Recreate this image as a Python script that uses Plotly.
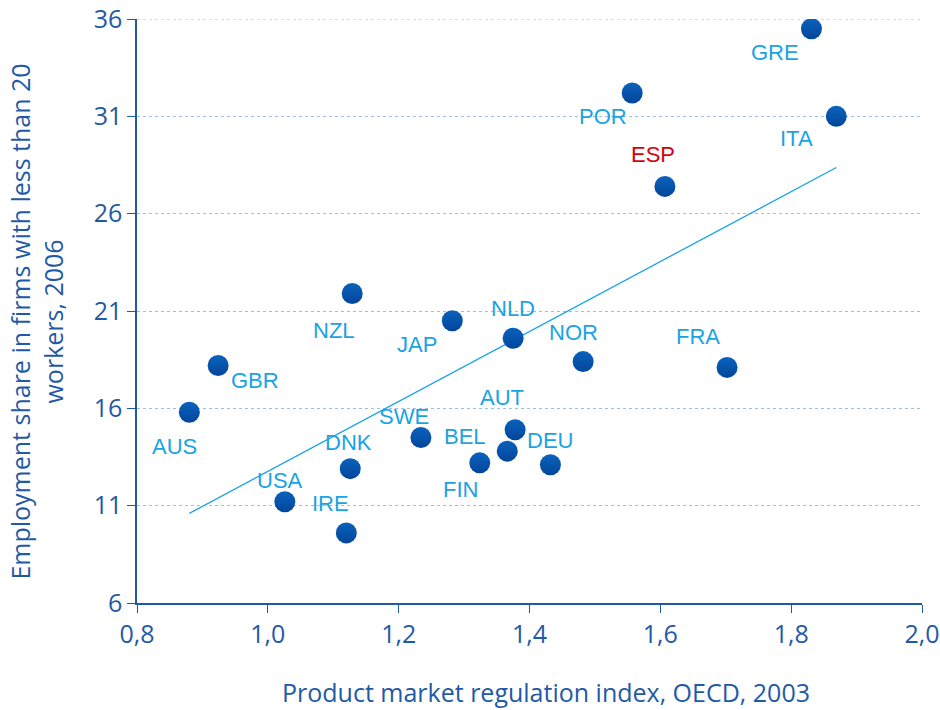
import plotly.graph_objects as go
import numpy as np

# Product market regulation vs employment share in small firms
countries = ["GRE", "ITA", "POR", "ESP", "NZL", "JAP", "NLD", "NOR", "FRA", "GBR",
             "AUS", "SWE", "AUT", "BEL", "DEU", "FIN", "DNK", "USA", "IRE"]
pmr = [1.831, 1.869, 1.557, 1.607, 1.129, 1.282, 1.375, 1.482, 1.702, 0.924,
       0.880, 1.234, 1.378, 1.324, 1.432, 1.366, 1.126, 1.026, 1.120]
emp_share = [35.5, 31.0, 32.2, 27.4, 21.9, 20.5, 19.6, 18.4, 18.1, 18.2,
             15.8, 14.5, 14.9, 13.2, 13.1, 13.8, 12.9, 11.2, 9.6]

# label offsets (px) relative to each point
label_dx = [-36, -40, -29, -12, -18, -35, 0, -10, -29, 37, -15, -17, -13, -15, 0, -47, -2, -5, -16]
label_dy = [24, 22, 24, -32, 37, 24, -30, -29, -31, 15, 34, -21, -32, -26, -24, 38, -26, -21, -29]

x_ticks = [0.8, 1.0, 1.2, 1.4, 1.6, 1.8, 2.0]
x_ticklabels = ["0,8", "1,0", "1,2", "1,4", "1,6", "1,8", "2,0"]
y_ticks = [6, 11, 16, 21, 26, 31, 36]

axis_col = "#1F5AA6"
label_col = "#1AA3E3"
grid_col = "#93C3EA"

# linear trend
coef = np.polyfit(pmr, emp_share, 1)
trend_x = np.array([min(pmr), max(pmr)])
trend_y = np.polyval(coef, trend_x)

fig = go.Figure()
fig.add_trace(go.Scatter(
    x=trend_x, y=trend_y, mode="lines",
    line=dict(color="#18A4E6", width=1.3),
    hoverinfo="skip"
))
fig.add_trace(go.Scatter(
    x=pmr, y=emp_share, mode="markers",
    marker=dict(size=21, color="#0A62BC",
                gradient=dict(type="vertical", color="#02469A"),
                line=dict(width=0)),
    text=countries, hovertemplate="%{text}: %{x}, %{y}<extra></extra>"
))

for c, x, y, dx, dy in zip(countries, pmr, emp_share, label_dx, label_dy):
    fig.add_annotation(
        x=x, y=y, text=c, showarrow=False,
        xshift=dx, yshift=-dy,
        font=dict(family="Liberation Sans, Arial", size=22,
                  color="#D9000D" if c == "ESP" else label_col)
    )

# top gridline sits on the plot edge, plotly skips it, so draw it
fig.add_shape(type="line", xref="paper", x0=0, x1=1, yref="y", y0=y_ticks[-1], y1=y_ticks[-1],
              line=dict(color=grid_col, width=1, dash="dot"), layer="below")

# axis titles
fig.add_annotation(
    text="Product market regulation index, OECD, 2003",
    xref="paper", yref="paper", x=0.521, y=-0.152,
    xanchor="center", yanchor="middle", showarrow=False,
    font=dict(size=25, color=axis_col)
)
fig.add_annotation(
    text="Employment share in firms with less than 20<br>workers, 2006",
    xref="paper", yref="paper", x=-0.128, y=0.481, textangle=-90,
    xanchor="center", yanchor="middle", showarrow=False,
    font=dict(size=25, color=axis_col)
)

fig.update_layout(
    width=940, height=710,
    margin=dict(l=137, r=18, t=19, b=107),
    plot_bgcolor="white", paper_bgcolor="white",
    showlegend=False,
    font=dict(family="Open Sans, Noto Sans", color=axis_col),
    xaxis=dict(
        range=[0.8, 2.0], tickvals=x_ticks, ticktext=x_ticklabels,
        showgrid=False, zeroline=False, automargin=False,
        showline=True, linecolor=axis_col, linewidth=1.5,
        ticks="outside", ticklen=8, tickcolor=axis_col,
        tickfont=dict(size=25, color=axis_col),
    ),
    yaxis=dict(
        range=[6, 36], tickvals=y_ticks,
        showgrid=True, gridcolor=grid_col, griddash="dot", gridwidth=1,
        zeroline=False, automargin=False,
        showline=True, linecolor=axis_col, linewidth=1.5,
        ticks="outside", ticklen=8, tickcolor=axis_col,
        tickfont=dict(size=25, color=axis_col),
    ),
)

# drop the default page margin so the figure sits at the window corner
fig.write_html("out.html", config={"displayModeBar": False},
               post_script="document.body.style.margin = '0';")
